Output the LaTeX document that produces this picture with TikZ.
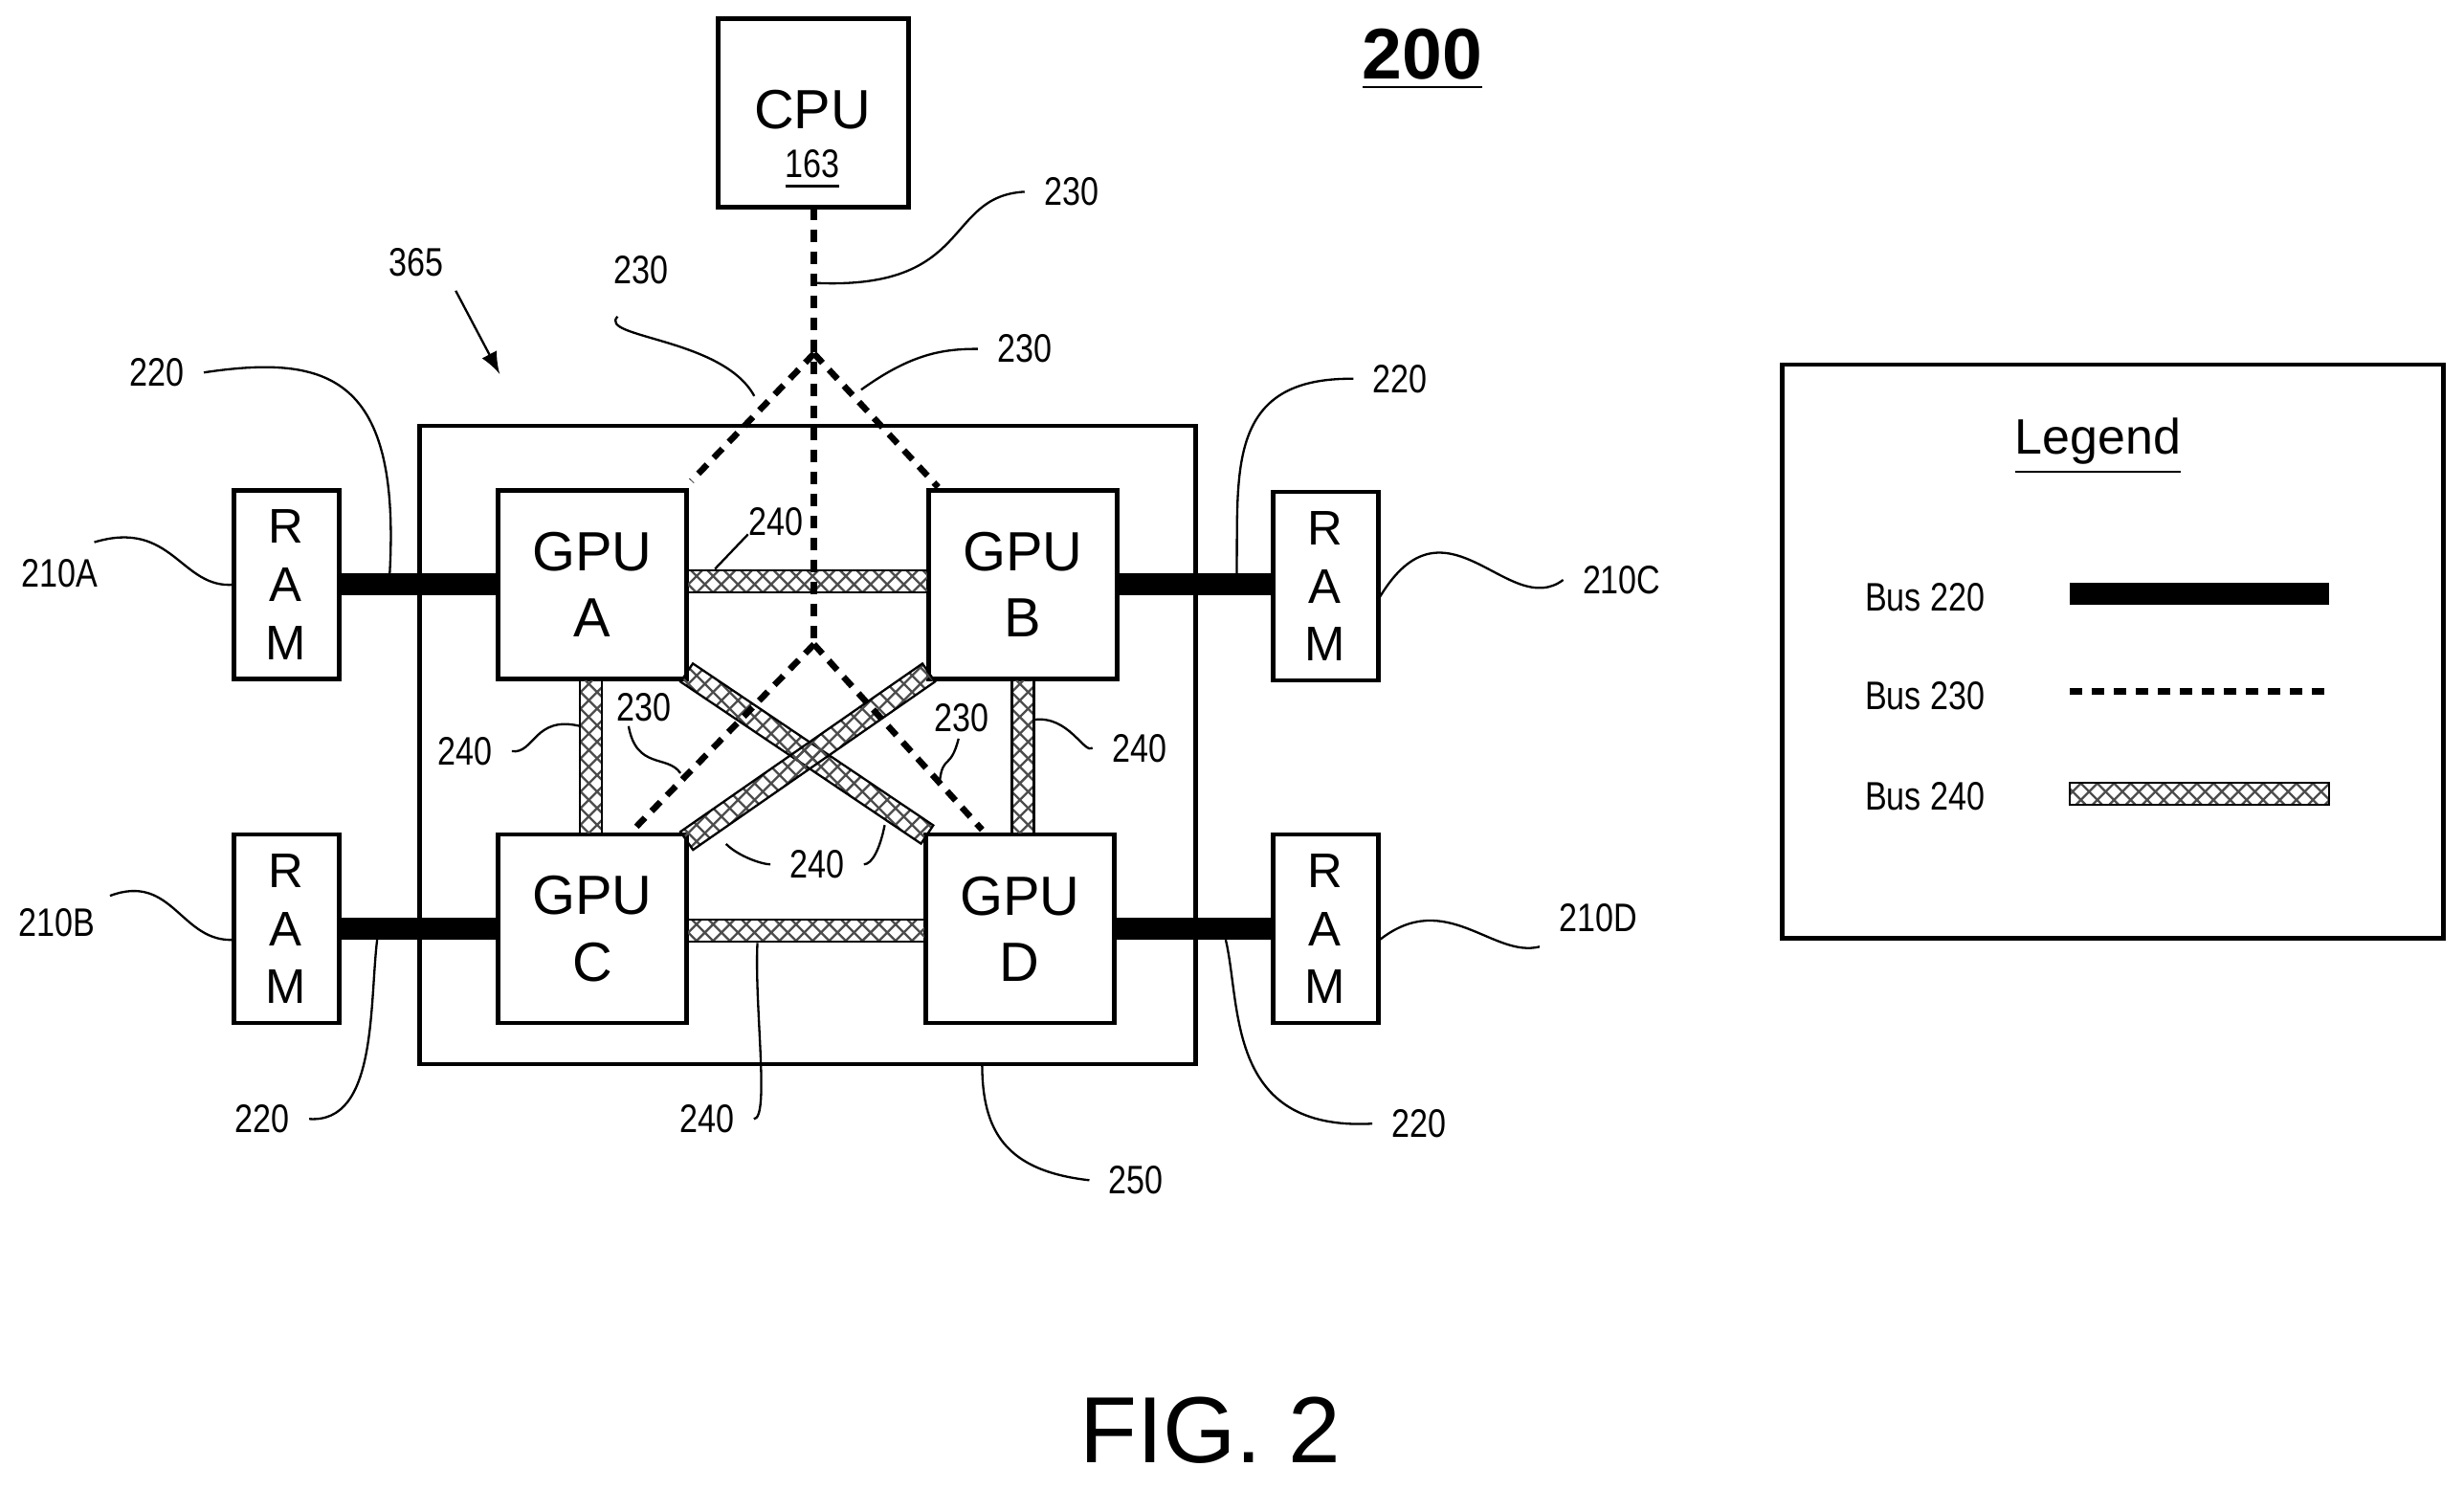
\documentclass[tikz,border=0pt]{standalone}
\usepackage{fontspec}
\setmainfont{Liberation Sans}
\newfontfamily\narrowf[FakeStretch=0.82]{Liberation Sans}
\usetikzlibrary{patterns,calc}
\begin{document}
\begin{tikzpicture}[x=0.01cm,y=-0.01cm,
  box/.style={draw,line width=0.8pt,inner sep=0},
  lbl/.style={font=\narrowf\fontsize{7.2}{8}\selectfont},
  big/.style={align=center},
  lead/.style={line width=0.4pt},
  b220/.style={line width=0.14cm},
  b230/.style={line width=0.04cm,dash pattern=on 0.08cm off 0.06cm},
  hatch/.style={draw,line width=0.4pt,pattern=crosshatch,pattern color=black!70}]
\useasboundingbox (0,0) rectangle (1568,947);
\newcommand\hbus[2]{\path[hatch] ($(#1)!0.07cm!90:(#2)$) -- ($(#2)!0.07cm!-90:(#1)$) -- ($(#2)!0.07cm!90:(#1)$) -- ($(#1)!0.07cm!-90:(#2)$) -- cycle;}
% boxes
\draw[box] (457,12) rectangle (578,132);
\node (cpu) at (517,72) {};
\node[font=\fontsize{10}{12}\selectfont] at (517,70) {CPU};
\node[lbl] at (517,108) {\underline{163}};
\node[font=\bfseries\fontsize{13}{15}\selectfont] (n200) at (905,38) {\underline{200}};
\draw[box] (267,271) rectangle (761,677);
\foreach \n/\a/\b/\c/\d/\t in {ga/317/312/437/432/{GPU\\A},gb/591/312/711/432/{GPU\\B},gc/317/531/437/651/{GPU\\C},gd/589/531/709/651/{GPU\\D}}{
  \draw[box] (\a,\b) rectangle (\c,\d);
  \node[big,font=\fontsize{10}{12}\selectfont] (\n) at ({(\a+\c)/2},{(\b+\d)/2}) {\t};}
\foreach \n/\a/\b in {ra/149/312,rb/149/531,rc/810/313,rd/810/531}{
  \draw[box] (\a,\b) rectangle ({\a+67},{\b+120});
  \node[big,font=\fontsize{8.8}{10.5}\selectfont] (\n) at ({\a+33},{\b+60}) {R\\A\\M};}
% bus 220
\draw[b220] (216,372) -- (317,372);
\draw[b220] (216,591) -- (317,591);
\draw[b220] (711,372) -- (810,372);
\draw[b220] (709,591) -- (810,591);
% bus 240
\coordinate (h1) at (437,370); \coordinate (h2) at (591,370);
\coordinate (h3) at (437,592); \coordinate (h4) at (589,592);
\coordinate (v1) at (376,432); \coordinate (v2) at (376,531);
\coordinate (v3) at (651,432); \coordinate (v4) at (651,531);
\coordinate (d1) at (437,428); \coordinate (d2) at (590,531);
\coordinate (d3) at (591,428); \coordinate (d4) at (437,535);
\hbus{h1}{h2}\hbus{h3}{h4}\hbus{v1}{v2}\hbus{v3}{v4}\hbus{d1}{d2}\hbus{d3}{d4}
% bus 230
\coordinate (s1) at (518,132); \coordinate (s2) at (518,225); \coordinate (s3) at (518,410);
\coordinate (ea) at (440,306); \coordinate (eb) at (597,310);
\coordinate (ec) at (405,526); \coordinate (ed) at (625,528);
\draw[b230] (s1) -- (s2) -- (s3);
\draw[b230] (s2) -- (ea); \draw[b230] (s2) -- (eb);
\draw[b230] (s3) -- (ec); \draw[b230] (s3) -- (ed);
% labels with leaders
\node[lbl,anchor=west] (l1) at (652,122) {230};
\draw[lead] (l1.west) .. controls (600,125) and (620,185) .. (518,180);
\node[lbl] (l2) at (408,172) {230};
\draw[lead] (l2.south) ++(-15,8) .. controls (380,215) and (460,215) .. (480,252);
\node[lbl] (l3) at (652,222) {230};
\draw[lead] (l3.west) .. controls (600,222) and (580,225) .. (548,248);
\node[lbl] (l4) at (265,167) {365};
\draw[lead,-latex] (290,185) -- (318,238);
\node[lbl] (l5) at (100,237) {220};
\draw[lead] (l5.east) .. controls (210,225) and (255,240) .. (248,365);
\node[lbl] (l6) at (38,365) {210A};
\draw[lead] (60,345) .. controls (110,330) and (115,375) .. (149,372);
\node[lbl] (l7) at (891,241) {220};
\draw[lead] (l7.west) .. controls (780,240) and (788,300) .. (787,365);
\node[lbl] (l8) at (1032,369) {210C};
\draw[lead] (l8.west) .. controls (960,395) and (920,310) .. (878,380);
\node[lbl] (l9) at (494,332) {240};
\draw[lead] (476,340) -- (455,362);
\node[lbl] (l10) at (296,478) {240};
\draw[lead] (l10.east) .. controls (340,480) and (340,455) .. (369,462);
\node[lbl] (l11) at (410,450) {230};
\draw[lead] (400,462) .. controls (405,490) and (425,480) .. (433,492);
\node[lbl] (l12) at (612,457) {230};
\draw[lead] (610,470) .. controls (605,490) and (600,480) .. (598,497);
\node[lbl] (l13) at (725,476) {240};
\draw[lead] (l13.west) .. controls (690,480) and (680,455) .. (658,458);
\node[lbl] (l14) at (520,550) {240};
\draw[lead] (l14.west) .. controls (485,550) and (470,545) .. (462,537);
\draw[lead] (l14.east) .. controls (555,550) and (560,540) .. (563,525);
\node[lbl] (l15) at (36,587) {210B};
\draw[lead] (70,570) .. controls (110,555) and (115,600) .. (149,598);
\node[lbl] (l16) at (167,712) {220};
\draw[lead] (l16.east) .. controls (240,715) and (235,640) .. (240,598);
\node[lbl] (l17) at (450,712) {240};
\draw[lead] (l17.east) .. controls (490,712) and (480,640) .. (482,600);
\node[lbl] (l18) at (723,751) {250};
\draw[lead] (l18.west) .. controls (640,745) and (625,720) .. (625,677);
\node[lbl] (l19) at (903,715) {220};
\draw[lead] (l19.west) .. controls (780,720) and (790,640) .. (780,598);
\node[lbl] (l20) at (1017,584) {210D};
\draw[lead] (l20.south west) ++(0,-3) .. controls (950,610) and (920,565) .. (878,598);
% legend
\draw[box] (1134,232) rectangle (1555,597);
\node[font=\fontsize{9}{11}\selectfont] (lg) at (1335,284) {\underline{Legend}};
\node[lbl] (k1) at (1225,380) {Bus 220};
\node[lbl] (k2) at (1225,443) {Bus 230};
\node[lbl] (k3) at (1225,507) {Bus 240};
\coordinate (k1a) at (1317,378); \coordinate (k1b) at (1482,378);
\coordinate (k2a) at (1317,440); \coordinate (k2b) at (1482,440);
\coordinate (k3a) at (1317,505); \coordinate (k3b) at (1482,505);
\draw[b220] (k1a) -- (k1b);
\draw[b230] (k2a) -- (k2b);
\hbus{k3a}{k3b}
\node[font=\fontsize{17}{20}\selectfont] (fig) at (770,910) {FIG. 2};
\end{tikzpicture}
\end{document}
